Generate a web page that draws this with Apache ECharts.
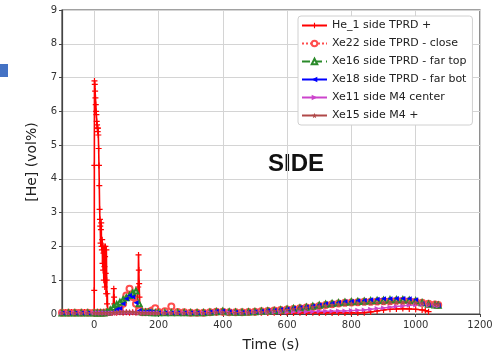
<!DOCTYPE html>
<html><head><meta charset="utf-8">
<script src="https://cdn.jsdelivr.net/npm/echarts@6/dist/echarts.min.js"></script>
<style>html,body{margin:0;padding:0;background:#fff}#c{width:497px;height:357px}</style>
</head><body><div id="c"></div>
<script>
const xTicks = [0, 200, 400, 600, 800, 1000, 1200];
const yTicks = [0, 1, 2, 3, 4, 5, 6, 7, 8, 9];
const seriesNames = ['He_1 side TPRD +', 'Xe22 side TPRD - close', 'Xe16 side TPRD - far top', 'Xe18 side TPRD - far bot', 'Xe11 side M4 center', 'Xe15 side M4 +'];

const heT = [-100,-90,-80,-70,-60,-50,-40,-30,-20,-10,0,0.3,0.6,1,2,3,4,5,6,7,8,9,10,11,12,13,14,15,16,17,18,19,20,21,22,23,24,25,26,27,28,29,30,31,32,33,34,35,36,37,38,39,40,41,42,44,48,52,56,59,61,62,63,64,70,80,90,100,110,120,130,135,137,138,139,140,141,142,144,150,160,170,180,200,220,240,260,280,300,320,340,360,380,400,420,440,460,480,500,520,540,560,580,600,620,640,660,680,700,720,740,760,780,800,820,840,860,880,900,920,940,960,980,1000,1020,1030,1040];
const heV = [0.05,0.06,0.05,0.06,0.05,0.06,0.05,0.06,0.05,0.05,0.05,0.7,4.4,6.9,6.8,6.6,6.4,6.2,6.0,5.9,5.7,5.6,5.5,5.4,5.5,5.3,4.9,4.4,3.8,3.1,2.8,2.6,2.1,2.5,2.7,2.0,1.9,2.2,1.5,2.0,1.3,1.8,1.0,2.0,1.4,0.8,1.7,2.0,1.2,0.6,1.9,1.0,0.3,0.6,0.1,0.05,0.04,0.05,0.04,0.1,0.75,0.5,0.3,0.05,0.04,0.05,0.04,0.05,0.04,0.05,0.04,0.06,0.8,1.75,1.3,0.9,0.5,0.2,0.05,0.04,0.05,0.04,0.03,0.04,0.03,0.04,0.03,0.04,0.03,0.04,0.03,0.04,0.03,0.04,0.03,0.04,0.03,0.04,0.03,0.04,0.03,0.04,0.03,0.04,0.03,0.04,0.03,0.04,0.03,0.04,0.03,0.04,0.03,0.04,0.03,0.04,0.06,0.09,0.12,0.14,0.15,0.16,0.15,0.14,0.12,0.1,0.07,0.04,0.02];

const xeT = [-100,-80,-60,-40,-20,0,10,20,30,40,50,60,70,80,90,100,110,120,130,140,150,160,170,180,190,200,220,240,260,280,300,320,340,360,380,400,420,440,460,480,500,520,540,560,580,600,620,640,660,680,700,720,740,760,780,800,820,840,860,880,900,920,940,960,980,1000,1020,1040,1060,1070];
const xe22V = [0.04,0.04,0.04,0.04,0.04,0.04,0.04,0.04,0.04,0.05,0.06,0.08,0.1,0.2,0.3,0.55,0.75,0.5,0.3,0.1,0.05,0.05,0.06,0.1,0.17,0.06,0.08,0.22,0.06,0.05,0.04,0.04,0.04,0.05,0.07,0.07,0.05,0.05,0.05,0.06,0.07,0.08,0.09,0.1,0.12,0.13,0.15,0.17,0.19,0.21,0.24,0.27,0.29,0.31,0.33,0.34,0.35,0.36,0.36,0.37,0.38,0.38,0.39,0.39,0.38,0.36,0.33,0.3,0.28,0.27];
const xe16V = [0.03,0.03,0.03,0.03,0.03,0.03,0.03,0.03,0.03,0.06,0.12,0.2,0.28,0.35,0.42,0.48,0.55,0.62,0.68,0.3,0.06,0.05,0.05,0.04,0.04,0.04,0.04,0.04,0.04,0.04,0.04,0.04,0.04,0.05,0.07,0.08,0.06,0.05,0.05,0.06,0.07,0.08,0.09,0.1,0.12,0.14,0.16,0.18,0.2,0.23,0.26,0.29,0.31,0.33,0.35,0.36,0.37,0.38,0.39,0.4,0.41,0.42,0.42,0.42,0.41,0.39,0.33,0.29,0.27,0.26];
const xe18V = [0.03,0.03,0.03,0.03,0.03,0.03,0.03,0.03,0.03,0.03,0.03,0.05,0.14,0.16,0.3,0.45,0.55,0.5,0.33,0.1,0.05,0.06,0.08,0.06,0.04,0.04,0.04,0.04,0.04,0.04,0.04,0.04,0.04,0.06,0.08,0.09,0.07,0.05,0.05,0.06,0.07,0.08,0.1,0.11,0.13,0.15,0.17,0.19,0.21,0.24,0.27,0.3,0.32,0.34,0.36,0.37,0.39,0.4,0.42,0.44,0.45,0.45,0.46,0.46,0.45,0.42,0.3,0.27,0.26,0.25];
const xe11V = [0.03,0.03,0.03,0.03,0.03,0.03,0.03,0.03,0.03,0.03,0.03,0.03,0.03,0.04,0.04,0.04,0.04,0.04,0.04,0.03,0.03,0.03,0.03,0.03,0.03,0.03,0.03,0.03,0.03,0.03,0.03,0.03,0.03,0.04,0.05,0.05,0.04,0.04,0.04,0.04,0.05,0.05,0.05,0.06,0.06,0.06,0.07,0.07,0.07,0.07,0.08,0.08,0.08,0.09,0.09,0.1,0.11,0.12,0.14,0.16,0.18,0.2,0.22,0.24,0.26,0.27,0.28,0.27,0.25,0.24];
const xe15V = [0.03,0.03,0.03,0.03,0.03,0.03,0.03,0.03,0.03,0.03,0.04,0.04,0.05,0.06,0.06,0.07,0.07,0.06,0.05,0.04,0.04,0.04,0.03,0.03,0.03,0.03,0.03,0.03,0.03,0.03,0.03,0.03,0.03,0.04,0.05,0.05,0.04,0.04,0.04,0.05,0.06,0.07,0.08,0.1,0.11,0.13,0.15,0.17,0.19,0.21,0.23,0.25,0.27,0.29,0.3,0.31,0.32,0.33,0.33,0.34,0.34,0.35,0.35,0.35,0.35,0.34,0.32,0.3,0.29,0.28];

function pairs(t, v) { return t.map((x, i) => [x, v[i]]); }

const plusSym = 'path://M4,0H6V4H10V6H6V10H4V6H0V4H4Z';
const leftTri = 'path://M0,5L10,0L10,10Z';
const rightTri = 'path://M10,5L0,0L0,10Z';
const starSym = 'path://M5,0L6.2,3.6L10,3.6L6.9,5.9L8.1,9.5L5,7.3L1.9,9.5L3.1,5.9L0,3.6L3.8,3.6Z';
const FONT = 'DejaVu Sans';

const chart = echarts.init(document.getElementById('c'), null, {renderer: 'canvas'});
chart.setOption({
  animation: false,
  backgroundColor: '#fff',
  textStyle: {fontFamily: FONT},
  grid: {left: 62, top: 10, right: 17, bottom: 36, show: true, borderColor: '#444', borderWidth: 1.2},
  legend: {
    orient: 'vertical', left: 298, top: 16, itemWidth: 25, itemHeight: 7, itemGap: 7,
    padding: [4, 6, 4, 3], backgroundColor: '#fff', borderColor: '#d0d0d0', borderWidth: 1, borderRadius: 3,
    textStyle: {fontSize: 11, color: '#222', fontFamily: FONT},
    data: seriesNames
  },
  xAxis: {
    type: 'value', min: -100, max: 1200,
    name: 'Time (s)', nameLocation: 'middle', nameGap: 24,
    nameTextStyle: {fontSize: 14, color: '#222', fontFamily: FONT},
    axisLine: {show: true, onZero: false, lineStyle: {color: '#444', width: 1.2}},
    axisTick: {show: true, length: 3, customValues: xTicks, lineStyle: {color: '#444'}},
    axisLabel: {customValues: xTicks, fontSize: 10, color: '#333', margin: 6, fontFamily: FONT, formatter: v => String(v)},
    splitLine: {show: true, lineStyle: {color: '#d4d4d4', width: 1}}
  },
  yAxis: {
    type: 'value', min: 0, max: 9, interval: 1,
    name: '[He] (vol%)', nameLocation: 'middle', nameGap: 19, nameRotate: 90,
    nameTextStyle: {fontSize: 14, color: '#222', fontFamily: FONT},
    axisLine: {show: true, onZero: false, lineStyle: {color: '#444', width: 1.2}},
    axisTick: {show: true, length: 3, lineStyle: {color: '#444'}},
    axisLabel: {fontSize: 10, color: '#333', margin: 5, fontFamily: FONT},
    splitLine: {show: true, lineStyle: {color: '#d4d4d4', width: 1}}
  },
  graphic: [
    {type: 'rect', left: 0, top: 64, shape: {width: 8, height: 13}, style: {fill: '#4472c4'}},
    {type: 'text', left: 268, top: 152, style: {text: 'SIDE', font: 'bold 24px "Liberation Sans"', fill: '#111'}}
  ],
  series: [
    {name: seriesNames[0], type: 'line', data: pairs(heT, heV), symbol: plusSym, symbolSize: 6, showAllSymbol: true,
     lineStyle: {color: '#ff0000', width: 1.6}, itemStyle: {color: '#ff0000'}},
    {name: seriesNames[1], type: 'line', data: pairs(xeT, xe22V), symbol: 'emptyCircle', symbolSize: 6, showAllSymbol: true,
     lineStyle: {color: '#ff4d4d', width: 1.2, type: 'dotted'}, itemStyle: {color: '#ff4d4d', borderWidth: 1.2}},
    {name: seriesNames[2], type: 'line', data: pairs(xeT, xe16V), symbol: 'emptyTriangle', symbolSize: 5, showAllSymbol: true,
     lineStyle: {color: '#2a8a2a', width: 1.2, type: 'dashed'}, itemStyle: {color: '#2a8a2a', borderWidth: 1.2}},
    {name: seriesNames[3], type: 'line', data: pairs(xeT, xe18V), symbol: leftTri, symbolSize: 5, showAllSymbol: true,
     lineStyle: {color: '#0000ff', width: 1.4}, itemStyle: {color: '#0000ff'}},
    {name: seriesNames[4], type: 'line', data: pairs(xeT, xe11V), symbol: rightTri, symbolSize: 5, showAllSymbol: true,
     lineStyle: {color: '#cc44cc', width: 1.4}, itemStyle: {color: '#cc44cc'}},
    {name: seriesNames[5], type: 'line', data: pairs(xeT, xe15V), symbol: starSym, symbolSize: 6, showAllSymbol: true,
     lineStyle: {color: '#b04848', width: 1.8}, itemStyle: {color: '#b04848'}}
  ]
});
</script></body></html>
